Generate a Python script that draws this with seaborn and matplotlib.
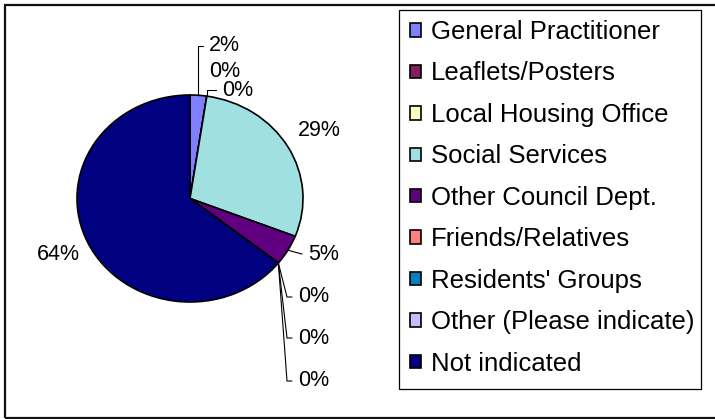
import matplotlib
matplotlib.use("Agg")
import matplotlib.pyplot as plt
import numpy as np
import seaborn as sns
from matplotlib.patches import Rectangle

# how people heard about the service (counts)
sources = ["General Practitioner", "Leaflets/Posters", "Local Housing Office",
           "Social Services", "Other Council Dept.", "Friends/Relatives",
           "Residents' Groups", "Other (Please indicate)", "Not indicated"]
responses = [1, 0, 0, 12, 2, 0, 0, 0, 27]
colours = ["#8080FF", "#802060", "#FFFFC0", "#A0E0E0", "#600080",
           "#FF8080", "#0080C0", "#C0C0FF", "#000080"]

sns.set_theme(style="white")
plt.rcParams["font.family"] = ["Liberation Sans", "DejaVu Sans"]
palette = sns.color_palette(colours)

W, H = 715, 419
fig = plt.figure(figsize=(W / 100, H / 100), dpi=100)
fig.patch.set_facecolor("white")

# pie is a squashed ellipse, like the excel original
cx, cy, rx, ry = 190, 198.5, 113, 103.5
ax = fig.add_axes([(cx - rx) / W, (H - cy - ry) / H, 2 * rx / W, 2 * ry / H])
wedges, _ = ax.pie(responses, colors=palette, startangle=90, counterclock=False,
                   wedgeprops=dict(edgecolor="black", linewidth=1.2))
ax.set_aspect("auto")
ax.set_xlim(-1, 1)
ax.set_ylim(-1, 1)
ax.axis("off")


def px2data(px, py):
    return (px - cx) / rx, (cy - py) / ry


# label layout: text anchor in pixels and leader style
label_pos = [(209, 46), (209, 72), (222, 90), (298, 131), (308, 254),
             (298, 297), (298, 338), (298, 381), (80, 255)]
leaders = ["up", None, "up", None, "direct", "down", "down", "down", None]

total = sum(responses)
for w, val, (tx, ty), kind in zip(wedges, responses, label_pos, leaders):
    mid = np.deg2rad((w.theta1 + w.theta2) / 2)
    axx, axy = np.cos(mid), np.sin(mid)
    x, y = px2data(tx, ty)
    ha = "right" if tx < cx else "left"
    ax.text(x, y, f"{round(100 * val / total)}%", ha=ha, va="center",
            fontsize=15.5, color="black", clip_on=False)
    if kind is None:
        continue
    end_x, _ = px2data(tx - 6, ty)
    if kind == "up":
        xs, ys = [axx, axx, end_x], [axy, y, y]
    elif kind == "direct":
        xs, ys = [axx, end_x], [axy, y]
    else:
        elbow_x, _ = px2data(tx - 11, ty)
        xs, ys = [axx, elbow_x, end_x], [axy, y, y]
    ax.plot(xs, ys, color="black", lw=0.8, clip_on=False)

# legend box
fig.patches.append(Rectangle((399 / W, 1 - 389 / H), 302 / W, 379 / H,
                             transform=fig.transFigure, fill=False,
                             edgecolor="black", lw=0.9))
fig.legend(wedges, sources, loc="upper left",
           bbox_to_anchor=(410 / W, 1 - 20 / H), frameon=False, fontsize=18.5,
           labelcolor="black",
           handlelength=0.43, handleheight=0.43, handletextpad=0.38,
           labelspacing=0.68, borderpad=0, borderaxespad=0)

# outer chart border
fig.patches.append(Rectangle((5 / W, 1 / H), 1.0, 413 / H,
                             transform=fig.transFigure, fill=False,
                             edgecolor="#111111", lw=1.6))

plt.savefig("out.png", dpi=100)
